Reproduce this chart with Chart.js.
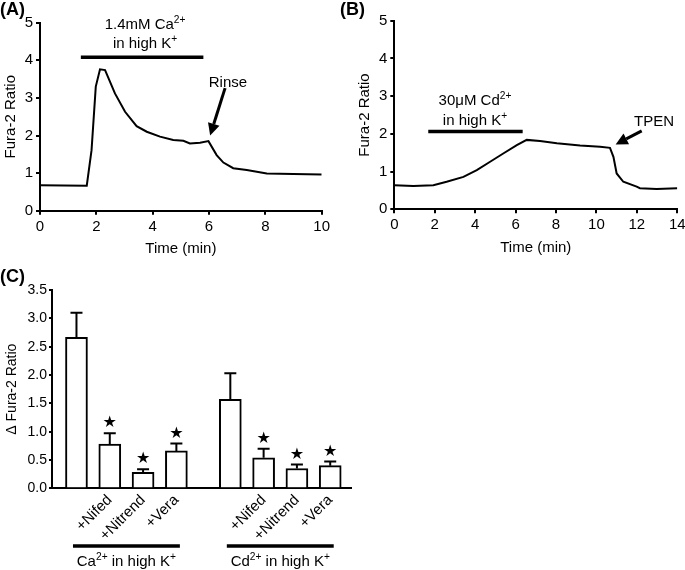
<!DOCTYPE html>
<html><head><meta charset="utf-8">
<script src="https://cdn.jsdelivr.net/npm/chart.js@4.4.1/dist/chart.umd.min.js"></script>
<style>
html,body{margin:0;padding:0;background:#fff;overflow:hidden;width:685px;height:570px;}
.p{position:absolute;}
.lbl{position:absolute;font:bold 18px "Liberation Sans",Arial,sans-serif;color:#000;line-height:18px;}
</style></head><body>
<div class="p" style="left:0;top:0;"><canvas id="cA" width="340" height="265"></canvas></div>
<div class="p" style="left:340px;top:0;"><canvas id="cB" width="360" height="265"></canvas></div>
<div class="p" style="left:0;top:270px;"><canvas id="cC" width="380" height="300"></canvas></div>
<div class="lbl" style="left:0;top:0;">(A)</div>
<div class="lbl" style="left:340px;top:0;">(B)</div>
<div class="lbl" style="left:0;top:267px;">(C)</div>
<script>
// ---------- DATA ----------
// Panel A: Ca2+ trace
const timeA  = [0, 1.66, 1.83, 1.98, 2.13, 2.31, 2.66, 3.02, 3.43, 3.79, 4.26, 4.73, 5.09, 5.32, 5.68, 5.98, 6.27, 6.51, 6.86, 7.34, 8.05, 8.99, 10];
const ratioA = [0.68, 0.665, 1.61, 3.30, 3.76, 3.74, 3.12, 2.63, 2.25, 2.10, 1.97, 1.88, 1.86, 1.79, 1.81, 1.85, 1.48, 1.28, 1.13, 1.08, 0.99, 0.976, 0.96];
// Panel B: Cd2+ trace
const timeB  = [0, 0.94, 1.93, 2.59, 3.42, 4.08, 4.74, 5.39, 6.06, 6.55, 7.21, 8.04, 9.19, 10.18, 10.67, 10.84, 11.0, 11.33, 11.99, 12.15, 12.98, 14];
const ratioB = [0.64, 0.62, 0.64, 0.73, 0.86, 1.04, 1.26, 1.48, 1.70, 1.84, 1.81, 1.75, 1.69, 1.66, 1.63, 1.39, 0.95, 0.73, 0.60, 0.56, 0.54, 0.56];
// Panel C: bar summary
const barLabels = ['', '+Nifed', '+Nitrend', '+Vera', '', '+Nifed', '+Nitrend', '+Vera'];
const barMeans  = [2.665, 0.78, 0.28, 0.66, 1.57, 0.54, 0.35, 0.40];
const barSem    = [0.435, 0.19, 0.055, 0.13, 0.46, 0.16, 0.07, 0.075];
const barSig    = [false, true, true, true, false, true, true, true];
const groupIons = ['Ca', 'Cd'];
const groupMembers = [[0, 1, 2, 3], [4, 5, 6, 7]];
const ticksA = [0, 2, 4, 6, 8, 10];
const ticksB = [0, 2, 4, 6, 8, 10, 12, 14];

// ---------- LAYOUT ----------
const FONT = '"Liberation Sans", Arial, sans-serif';
Chart.defaults.font.family = FONT;
Chart.defaults.color = '#000';
const GROUP_GAP = 0.62;
const barPos = barLabels.map((_, i) => i + (i >= 4 ? GROUP_GAP : 0));

function drawRich(ctx, segs, cx, cy, size) {
  let w = 0;
  segs.forEach(([t, sup]) => { ctx.font = (sup ? size * 0.68 : size) + 'px ' + FONT; w += ctx.measureText(t).width; });
  let x = cx - w / 2;
  const base = cy + size * 0.358;
  ctx.textAlign = 'left'; ctx.textBaseline = 'alphabetic'; ctx.fillStyle = '#000';
  segs.forEach(([t, sup]) => {
    ctx.font = (sup ? size * 0.68 : size) + 'px ' + FONT;
    ctx.fillText(t, x, sup ? base - size * 0.4 : base);
    x += ctx.measureText(t).width;
  });
}

const annotPlugin = {
  id: 'annot',
  afterDatasetsDraw(chart, args, opts) {
    const {ctx, scales: {x, y}} = chart;
    ctx.save();
    ctx.strokeStyle = '#000'; ctx.fillStyle = '#000';
    (opts.bars || []).forEach(b => {
      ctx.lineWidth = 3.5;
      ctx.beginPath();
      ctx.moveTo(x.getPixelForValue(b.x1), y.getPixelForValue(b.y));
      ctx.lineTo(x.getPixelForValue(b.x2), y.getPixelForValue(b.y));
      ctx.stroke();
    });
    (opts.texts || []).forEach(t => drawRich(ctx, t.segs, x.getPixelForValue(t.x), y.getPixelForValue(t.y), 15));
    (opts.arrows || []).forEach(a => {
      const x1 = x.getPixelForValue(a.x1), y1 = y.getPixelForValue(a.y1);
      const x2 = x.getPixelForValue(a.x2), y2 = y.getPixelForValue(a.y2);
      const ang = Math.atan2(y2 - y1, x2 - x1);
      const hl = 12, hw = 6;
      const bx = x2 - hl * Math.cos(ang), by = y2 - hl * Math.sin(ang);
      ctx.lineWidth = 3;
      ctx.beginPath(); ctx.moveTo(x1, y1); ctx.lineTo(bx, by); ctx.stroke();
      ctx.beginPath();
      ctx.moveTo(x2, y2);
      ctx.lineTo(bx + hw * Math.sin(ang), by - hw * Math.cos(ang));
      ctx.lineTo(bx - hw * Math.sin(ang), by + hw * Math.cos(ang));
      ctx.closePath(); ctx.fill();
    });
    ctx.restore();
  }
};

function traceConfig(times, vals, ticks, xmax, yw, xh, pad, titlePad, annot) {
  return {
    type: 'line',
    data: { datasets: [{ data: times.map((t, i) => ({x: t, y: vals[i]})), borderColor: '#000', borderWidth: 2, pointRadius: 0, tension: 0, fill: false }] },
    options: {
      responsive: false, animation: false, events: [],
      layout: { padding: pad },
      plugins: { legend: {display: false}, tooltip: {enabled: false}, annot: annot },
      scales: {
        x: {
          type: 'linear', min: 0, max: xmax,
          afterBuildTicks: s => { s.ticks = ticks.map(v => ({value: v})); },
          ticks: { font: {size: 15}, color: '#000', padding: 3, autoSkip: false, maxRotation: 0 },
          grid: { display: true, drawOnChartArea: false, drawTicks: true, tickLength: 4, color: '#000', lineWidth: 2 },
          border: { display: true, color: '#000', width: 2 },
          title: { display: true, text: 'Time (min)', font: {size: 15}, color: '#000', padding: 0 },
          afterFit: s => { s.height = xh; }
        },
        y: {
          min: 0, max: 5,
          ticks: { stepSize: 1, font: {size: 15}, color: '#000', padding: 3 },
          grid: { display: true, drawOnChartArea: false, drawTicks: true, tickLength: 4, color: '#000', lineWidth: 2 },
          border: { display: true, color: '#000', width: 2 },
          title: { display: true, text: 'Fura-2 Ratio', font: {size: 15}, color: '#000', padding: {top: titlePad, bottom: 0} },
          afterFit: s => { s.width = yw; }
        }
      }
    },
    plugins: [annotPlugin]
  };
}

new Chart(document.getElementById('cA'), traceConfig(timeA, ratioA, ticksA, 10, 40, 47.3,
  {left: 0, top: 22.7, right: 18.3, bottom: 7}, 2,
  {
    bars: [{x1: 1.45, x2: 5.8, y: 4.08}],
    texts: [
      {segs: [['1.4mM Ca', 0], ['2+', 1]], x: 3.73, y: 4.97},
      {segs: [['in high K', 0], ['+', 1]], x: 3.73, y: 4.46},
      {segs: [['Rinse', 0]], x: 6.67, y: 3.43}
    ],
    arrows: [{x1: 6.57, y1: 3.26, x2: 6.04, y2: 2.0}]
  }));

new Chart(document.getElementById('cB'), traceConfig(timeB, ratioB, ticksB, 14, 54.3, 48,
  {left: 0, top: 20.7, right: 22.7, bottom: 7.7}, 16,
  {
    bars: [{x1: 1.68, x2: 6.35, y: 2.06}],
    texts: [
      {segs: [['30\u03BCM Cd', 0], ['2+', 1]], x: 3.99, y: 2.92},
      {segs: [['in high K', 0], ['+', 1]], x: 3.99, y: 2.39},
      {segs: [['TPEN', 0]], x: 12.85, y: 2.34}
    ],
    arrows: [{x1: 12.24, y1: 2.08, x2: 10.95, y2: 1.72}]
  }));

const cPlugin = {
  id: 'cextra',
  afterDatasetsDraw(chart) {
    const {ctx, scales: {x, y}, chartArea} = chart;
    ctx.save();
    ctx.strokeStyle = '#000'; ctx.fillStyle = '#000'; ctx.lineWidth = 2;
    barMeans.forEach((m, i) => {
      const px = x.getPixelForValue(barPos[i]);
      const y0 = y.getPixelForValue(m), y1 = y.getPixelForValue(m + barSem[i]);
      ctx.beginPath();
      ctx.moveTo(px, y0); ctx.lineTo(px, y1);
      ctx.moveTo(px - 6, y1); ctx.lineTo(px + 6, y1);
      ctx.stroke();
      if (barSig[i]) {
        ctx.font = '16px "DejaVu Sans"'; ctx.textAlign = 'center'; ctx.textBaseline = 'middle';
        ctx.fillText('\u2605', px, y1 - 10);
      }
    });
    groupMembers.forEach((mem, g) => {
      const xa = x.getPixelForValue(barPos[mem[0]]) - 3.5;
      const xb = x.getPixelForValue(barPos[mem[mem.length - 1]]) + 3.5;
      const ly = chartArea.bottom + 57.7;
      ctx.lineWidth = 3.5;
      ctx.beginPath(); ctx.moveTo(xa, ly); ctx.lineTo(xb, ly); ctx.stroke();
      drawRich(ctx, [[groupIons[g], 0], ['2+', 1], [' in high K', 0], ['+', 1]], (xa + xb) / 2, chartArea.bottom + 72, 15);
    });
    ctx.restore();
  }
};

new Chart(document.getElementById('cC'), {
  type: 'bar',
  data: { datasets: [{ data: barMeans.map((m, i) => ({x: barPos[i], y: m})), backgroundColor: '#fff', borderColor: '#000', borderWidth: 2, barThickness: 22 }] },
  options: {
    responsive: false, animation: false, events: [],
    layout: { padding: {left: 0, top: 20, right: 28.3, bottom: 0} },
    plugins: { legend: {display: false}, tooltip: {enabled: false} },
    scales: {
      x: {
        type: 'linear', min: -0.735, max: 8.265, offset: false,
        afterBuildTicks: s => { s.ticks = barPos.map(v => ({value: v})); },
        ticks: { font: {size: 15}, color: '#000', padding: -5, autoSkip: false, minRotation: 45, maxRotation: 45,
                 callback: (v, i) => barLabels[i] },
        grid: { display: false },
        border: { display: true, color: '#000', width: 2 },
        afterFit: s => { s.height = 81.7; }
      },
      y: {
        min: 0, max: 3.5,
        ticks: { stepSize: 0.5, font: {size: 14}, color: '#000', padding: 2, callback: v => v.toFixed(1) },
        grid: { display: true, drawOnChartArea: false, drawTicks: true, tickLength: 3, color: '#000', lineWidth: 2 },
        border: { display: true, color: '#000', width: 2 },
        title: { display: true, text: '\u0394 Fura-2 Ratio', font: {size: 14}, color: '#000', padding: {top: 3.6, bottom: 0} },
        afterFit: s => { s.width = 52; }
      }
    }
  },
  plugins: [cPlugin]
});
</script>
</body></html>
